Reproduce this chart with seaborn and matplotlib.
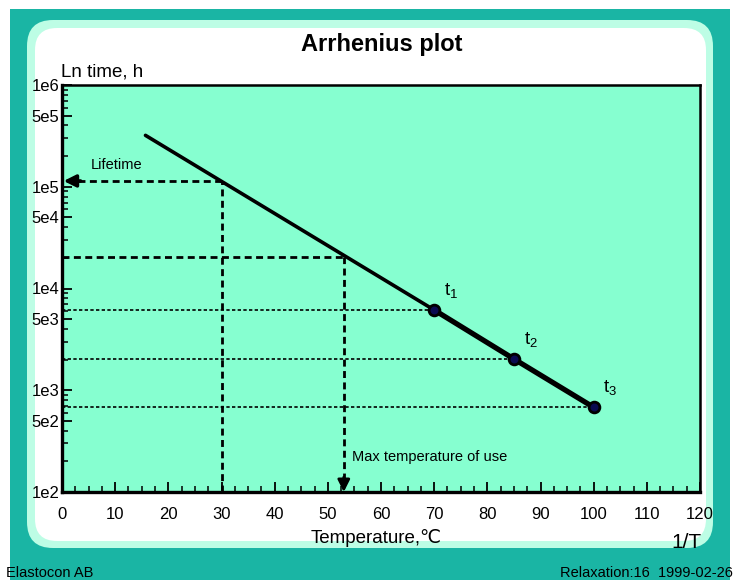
import matplotlib
matplotlib.use("Agg")
import matplotlib.pyplot as plt
from matplotlib.patches import Rectangle, FancyBboxPatch
from matplotlib.ticker import FixedLocator, MultipleLocator, LogLocator, NullFormatter
import seaborn as sns
import pandas as pd

# values
line_temp = [15.7, 70, 85, 100]
line_time = [3.2e5, 6150, 2030, 680]
meas_temp = [70, 85, 100]
meas_time = [6150, 2030, 680]
meas_labels = ["t$\\mathregular{_1}$", "t$\\mathregular{_2}$", "t$\\mathregular{_3}$"]
lifetime_temp, lifetime_h = 30, 1.14e5
maxuse_temp, maxuse_h = 53, 2.05e4
y_ticks = [1e2, 5e2, 1e3, 5e3, 1e4, 5e4, 1e5, 5e5, 1e6]
y_ticklabels = ["1e2", "5e2", "1e3", "5e3", "1e4", "5e4", "1e5", "5e5", "1e6"]
x_ticks = list(range(0, 121, 10))

sns.set_style("ticks")
plt.rcParams["font.family"] = ["Liberation Sans", "DejaVu Sans"]
plt.rcParams["mathtext.fontset"] = "custom"
plt.rcParams["mathtext.rm"] = "Liberation Sans"
plt.rcParams["text.color"] = "black"
plt.rcParams["xtick.color"] = "black"
plt.rcParams["ytick.color"] = "black"

W, H = 746, 580
fig = plt.figure(figsize=(W / 100, H / 100), dpi=100)
fig.patch.set_facecolor("white")

# background frame drawn in pixel coords
bg = fig.add_axes([0, 0, 1, 1])
bg.set_xlim(0, W)
bg.set_ylim(H, 0)
bg.axis("off")
bg.add_patch(Rectangle((10, 9), 720, 575, color="#1ab5a4", lw=0))
bg.add_patch(FancyBboxPatch((27, 20), 686, 528,
                            boxstyle="round,pad=0,rounding_size=26",
                            fc="#bdfde5", ec="none"))
bg.add_patch(FancyBboxPatch((35, 28), 671, 513,
                            boxstyle="round,pad=0,rounding_size=22",
                            fc="white", ec="none"))

bg.text(382, 45, "Arrhenius plot", fontsize=17, fontweight="bold",
        ha="center", va="center")
bg.text(61, 72, "Ln time, h", fontsize=13.5, ha="left", va="center")
bg.text(376, 538, "Temperature,\u2103", fontsize=13.5, ha="center", va="center")
bg.text(686, 543, "1/T", fontsize=15, ha="center", va="center")
bg.text(6, 573, "Elastocon AB", fontsize=10.5, ha="left", va="center")
bg.text(733, 573, "Relaxation:16  1999-02-26", fontsize=10.5, ha="right", va="center")

ax = fig.add_axes([62 / W, (H - 492) / H, 638 / W, 407 / H])
ax.set_facecolor("#86ffd0")

df_line = pd.DataFrame({"temp": line_temp, "time": line_time})
df_meas = pd.DataFrame({"temp": meas_temp, "time": meas_time})

# thin part up to t1, thicker through the measured points
sns.lineplot(data=df_line.iloc[:2], x="temp", y="time", color="black",
             lw=2.6, ax=ax, zorder=4)
sns.lineplot(data=df_meas, x="temp", y="time", color="black",
             lw=3.8, ax=ax, zorder=4)
sns.scatterplot(data=df_meas, x="temp", y="time", color="#0a0a50",
                edgecolor="black", linewidth=2, s=60, ax=ax, zorder=5)

for t, h, lab in zip(meas_temp, meas_time, meas_labels):
    ax.plot([0, t], [h, h], color="black", lw=1.2, ls=(0, (2, 1.4)), zorder=3)
    ax.annotate(lab, (t, h), xytext=(7, 14), textcoords="offset points",
                fontsize=13.5, ha="left", va="center")

# lifetime and max temperature guides
ax.plot([3, lifetime_temp], [lifetime_h, lifetime_h], color="black", lw=2,
        ls=(0, (2.5, 1.6)), zorder=3)
ax.plot([lifetime_temp, lifetime_temp], [1e2, lifetime_h], color="black", lw=2,
        ls=(0, (2.5, 1.6)), zorder=3)
ax.plot([0, maxuse_temp], [maxuse_h, maxuse_h], color="black", lw=2,
        ls=(0, (2.5, 1.6)), zorder=3)
ax.plot([maxuse_temp, maxuse_temp], [1.3e2, maxuse_h], color="black", lw=2,
        ls=(0, (2.5, 1.6)), zorder=3)
ax.annotate("", xy=(0.3, lifetime_h), xytext=(3.5, lifetime_h),
            arrowprops=dict(arrowstyle="-|>", color="black", lw=2.5,
                            mutation_scale=18, shrinkA=0, shrinkB=0), zorder=6)
ax.annotate("", xy=(maxuse_temp, 1.0e2), xytext=(maxuse_temp, 1.4e2),
            arrowprops=dict(arrowstyle="-|>", color="black", lw=2,
                            mutation_scale=18, shrinkA=0, shrinkB=0), zorder=6)
ax.text(5.5, lifetime_h * 1.45, "Lifetime", fontsize=10.5, ha="left", va="center")
ax.text(maxuse_temp + 1.5, 2.2e2, "Max temperature of use", fontsize=10.5,
        ha="left", va="center")

ax.set_yscale("log")
ax.set_xlim(0, 120)
ax.set_ylim(1e2, 1e6)
ax.yaxis.set_major_locator(FixedLocator(y_ticks))
ax.set_yticklabels(y_ticklabels)
ax.yaxis.set_minor_locator(LogLocator(base=10, subs=(2, 3, 4, 6, 7, 8, 9)))
ax.yaxis.set_minor_formatter(NullFormatter())
ax.set_xticks(x_ticks)
ax.xaxis.set_minor_locator(MultipleLocator(2.5))
ax.set_xlabel("")
ax.set_ylabel("")
ax.tick_params(axis="both", which="major", direction="in", length=7, width=1.3,
               labelsize=12, colors="black")
ax.tick_params(axis="both", which="minor", direction="in", length=4, width=1.1)
ax.tick_params(axis="x", pad=11)
ax.tick_params(axis="y", pad=2)
ax.tick_params(top=False, right=False, which="both")
for side in ["left", "bottom"]:
    ax.spines[side].set_linewidth(2.4)
    ax.spines[side].set_color("black")
for side in ["top", "right"]:
    ax.spines[side].set_visible(True)
    ax.spines[side].set_linewidth(1.8)
    ax.spines[side].set_color("black")
leg = ax.get_legend()
if leg:
    leg.remove()

fig.savefig("out.png", dpi=100, facecolor=fig.get_facecolor())
